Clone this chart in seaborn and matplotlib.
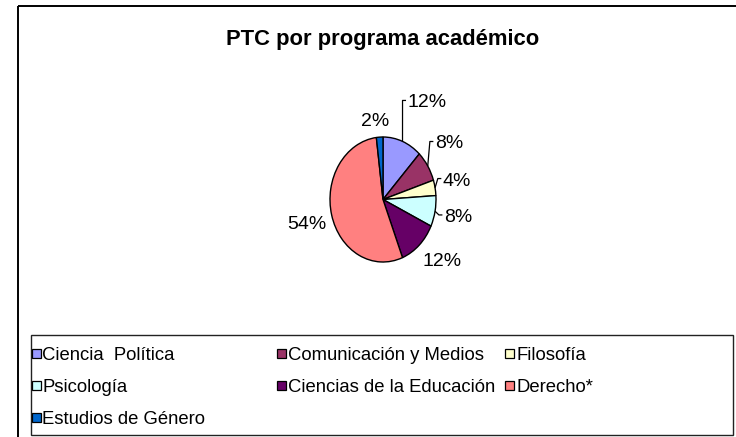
import numpy as np
import matplotlib
matplotlib.use("Agg")
import matplotlib.pyplot as plt
from matplotlib.patches import Rectangle
from matplotlib import transforms
import seaborn as sns

# ---- data ----
title = "PTC por programa académico"
categories = ["Ciencia  Política", "Comunicación y Medios", "Filosofía",
              "Psicología", "Ciencias de la Educación", "Derecho*",
              "Estudios de Género"]
counts = [6, 4, 2, 4, 6, 27, 1]
colors = ["#9999FF", "#993366", "#FFFFCC", "#CCFFFF", "#660066", "#FF8080", "#0066CC"]

# ---- layout (label placement relative to wedge mid-angle) ----
label_r = [1.79, 1.553, 1.436, 1.437, 1.472, 1.476, 1.289]
label_dtheta = [-6.1, 4.3, 2.7, 0.9, 6.5, -0.6, 3.1]
leader = [True, True, True, True, False, False, False]

sns.set_theme(style="white")
plt.rcParams["font.family"] = ["Liberation Sans", "DejaVu Sans"]

W, H = 736, 437
fig = plt.figure(figsize=(W / 100, H / 100), dpi=100)
fig.patch.set_facecolor("white")

# background axes in pixel coordinates
bg = fig.add_axes([0, 0, 1, 1], zorder=0)
bg.set_xlim(0, W)
bg.set_ylim(H, 0)
bg.axis("off")

# outer chart frame (extends beyond the picture on the right/bottom)
bg.add_patch(Rectangle((18, 6), 740, 450, fill=False, ec="black", lw=1.4))

bg.text(383, 45, title, ha="center", va="baseline", fontsize=15.8,
        fontweight="bold", color="black")

# pie axes: centre at (383, 199.5) px, radii 53 x 62.5 px
cx, cy = 383, 199.5
aw, ah = 400, 300
ax = fig.add_axes([(cx - aw / 2) / W, (H - cy - ah / 2) / H, aw / W, ah / H], zorder=1)
ax.patch.set_alpha(0)
pal = sns.color_palette(colors)
wedges, _ = ax.pie(counts, colors=pal, startangle=90, counterclock=False,
                   wedgeprops=dict(edgecolor="black", linewidth=1.0))
ax.set_aspect("auto")
rx, ry = 53, 62.5
ax.set_xlim(-aw / 2 / rx, aw / 2 / rx)
ax.set_ylim(-ah / 2 / ry, ah / 2 / ry)
ax.axis("off")

total = sum(counts)
fracs = np.array(counts) / total
ends = np.cumsum(fracs) * 360
starts = ends - fracs * 360
mids = 90 - (starts + ends) / 2  # math angle, degrees

shift = transforms.offset_copy(ax.transData, fig=fig, x=0, y=-7, units="dots")
texts = []
for i, f in enumerate(fracs):
    th = np.deg2rad(mids[i] + label_dtheta[i])
    x, y = label_r[i] * np.cos(th), label_r[i] * np.sin(th)
    t = ax.text(x, y, f"{round(f * 100):d}%", ha="center", va="baseline",
                fontsize=14, color="black", transform=shift)
    texts.append((t, x, y))

fig.canvas.draw()
renderer = fig.canvas.get_renderer()
for i, (t, x, y) in enumerate(texts):
    if not leader[i]:
        continue
    bb = t.get_window_extent(renderer)
    left_px = bb.x0
    left_data = ax.transData.inverted().transform((left_px, 0))[0]
    m = np.deg2rad(mids[i])
    sx, sy = np.cos(m), np.sin(m)
    ex = left_data - 5 / rx
    ax.plot([sx, ex, left_data - 1.5 / rx], [sy, y, y], color="black", lw=0.9,
            solid_capstyle="butt")

# legend box
bg.add_patch(Rectangle((31, 335), 702, 99.5, fill=False, ec="#222222", lw=1.0))
col_marker = [32, 277, 505]
col_text = [42.5, 288, 517]
row_y = [353.5, 385.5, 417.5]
msize = 8.5
for i, name in enumerate(categories):
    r, c = divmod(i, 3)
    yc = row_y[r]
    bg.add_patch(Rectangle((col_marker[c], yc - msize / 2), msize, msize,
                           fc=pal[i], ec="black", lw=0.9))
    bg.text(col_text[c], yc + 6.6, name, ha="left", va="baseline",
            fontsize=13.3, color="black")

fig.savefig("out.png", dpi=100)
